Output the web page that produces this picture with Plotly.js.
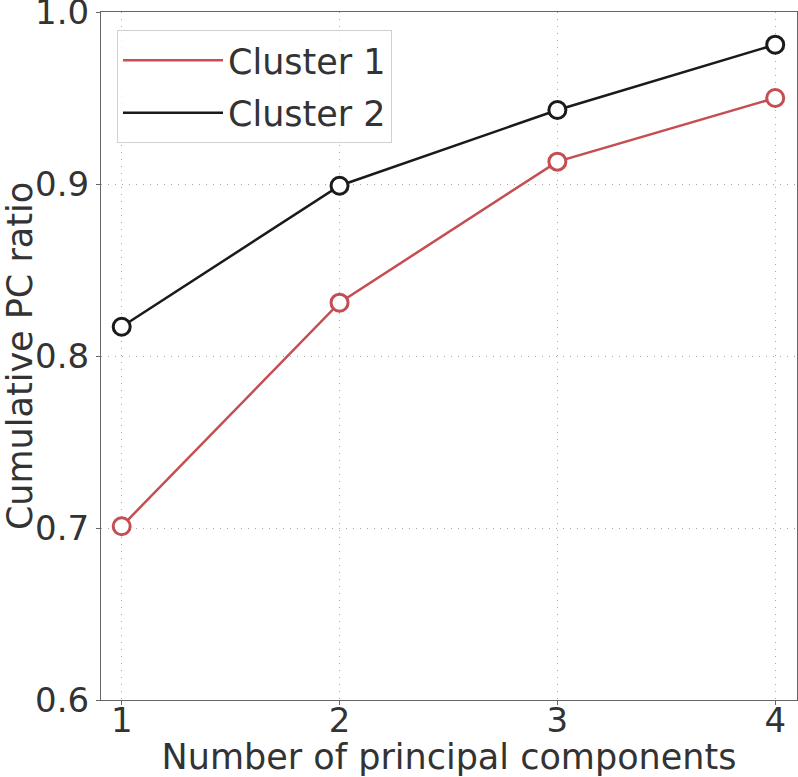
<!DOCTYPE html>
<html>
<head>
<meta charset="utf-8">
<script src="https://cdn.plot.ly/plotly-3.0.1.min.js"></script>
<style>html,body{margin:0;padding:0;background:#fff;}#chart{width:798px;height:777px;}</style>
</head>
<body>
<div id="chart"></div>
<script>
const components = [1, 2, 3, 4];
const cluster1 = [0.701, 0.831, 0.913, 0.950];
const cluster2 = [0.817, 0.899, 0.943, 0.981];
const seriesNames = ["Cluster 1", "Cluster 2"];
const yTicks = [0.6, 0.7, 0.8, 0.9, 1.0];
const yTickLabels = ["0.6", "0.7", "0.8", "0.9", "1.0"];
const xTicks = [1, 2, 3, 4];
const xTickLabels = ["1", "2", "3", "4"];

const red = "#c44e52";
const black = "#1a1a1a";

function trace(y, name, color) {
  return {
    x: components, y: y, name: name, type: "scatter", mode: "lines+markers",
    showlegend: false, legendgroup: name,
    line: {color: color, width: 2.5},
    marker: {symbol: "circle", size: 17, color: "#ffffff", line: {color: color, width: 3}}
  };
}
function legendTrace(name, color) {
  return {
    x: [null], y: [null], name: name, type: "scatter", mode: "lines",
    showlegend: true, legendgroup: name,
    line: {color: color, width: 2.5}
  };
}

const data = [
  trace(cluster1, seriesNames[0], red),
  trace(cluster2, seriesNames[1], black),
  legendTrace(seriesNames[0], red),
  legendTrace(seriesNames[1], black)
];

const ff = "DejaVu Sans, sans-serif";

const layout = {
  width: 798, height: 777,
  margin: {l: 101, r: 1, t: 12, b: 77, pad: 0},
  paper_bgcolor: "#ffffff", plot_bgcolor: "#ffffff",
  font: {family: ff, color: "#333333", size: 32},
  showlegend: true,
  legend: {
    x: 0.023, y: 0.974, xanchor: "left", yanchor: "top",
    bgcolor: "rgba(255,255,255,0.8)", bordercolor: "#d0d0d0", borderwidth: 1,
    font: {family: ff, size: 35, color: "#333333"},
    itemwidth: 100, tracegroupgap: 4
  },
  xaxis: {
    range: [0.905, 4.1],
    tickvals: xTicks, ticktext: xTickLabels,
    showgrid: true, gridcolor: "#a8a8a8", griddash: "1px,6px", gridwidth: 1,
    zeroline: false, showline: true, linecolor: "#666666", linewidth: 1, mirror: true,
    ticks: "outside", ticklen: 4, tickcolor: "#666666",
    ticklabelstandoff: -14, ticklabeloverflow: "allow",
    tickfont: {family: ff, size: 34, color: "#333333"},
    title: {text: "Number of principal components", font: {family: ff, size: 35, color: "#333333"}, standoff: 8}
  },
  yaxis: {
    range: [0.6, 1.0],
    tickvals: yTicks, ticktext: yTickLabels,
    showgrid: true, gridcolor: "#a8a8a8", griddash: "1px,6px", gridwidth: 1,
    zeroline: false, showline: true, linecolor: "#666666", linewidth: 1, mirror: true,
    ticks: "outside", ticklen: 4, tickcolor: "#666666",
    ticklabeloverflow: "allow",
    tickfont: {family: ff, size: 34, color: "#333333"},
    title: {text: "Cumulative PC ratio", font: {family: ff, size: 35, color: "#333333"}, standoff: 2}
  }
};

Plotly.newPlot("chart", data, layout, {staticPlot: true, displayModeBar: false});
</script>
</body>
</html>
